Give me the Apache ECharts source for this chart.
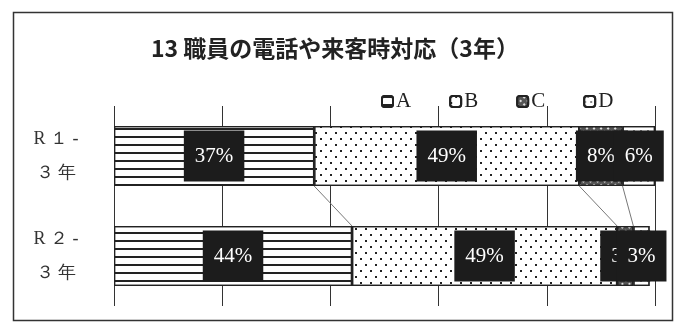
<!DOCTYPE html>
<html>
<head>
<meta charset="utf-8">
<script src="https://cdn.jsdelivr.net/npm/echarts@6/dist/echarts.min.js"></script>
<style>
  html, body { margin: 0; padding: 0; background: #fff; }
  #chart { width: 683px; height: 334px; }
</style>
</head>
<body>
<div id="chart"></div>
<script>
  // 区分・系列データ (%)
  var categories = ['R １ -\n３ 年', 'R ２ -\n３ 年'];
  var seriesNames = ['A', 'B', 'C', 'D'];
  var valA = [37, 44];
  var valB = [49, 49];
  var valC = [8, 3];
  var valD = [6, 3];
  var xTicks = [0, 20, 40, 60, 80, 100];

  var serif = '"Liberation Serif", "DejaVu Serif", serif';

  // 区切り線 (R1 の境界 → R2 の境界)
  function cumulative(i) {
    var a = valA[i], b = a + valB[i], c = b + valC[i];
    return [a, b, c];
  }
  var c1 = cumulative(0), c2 = cumulative(1);
  var linkData = [];
  for (var k = 0; k < c1.length; k++) {
    linkData.push([c1[k], c2[k]]);
  }

  var BAR_W = 60;

  var labelStyle = {
    show: true,
    position: 'inside',
    formatter: '{c}%',
    color: '#fff',
    fontFamily: serif,
    fontSize: 21,
    backgroundColor: '#1c1c1c',
    padding: [15, 11]
  };

  var patterns = {
    A: { color: '#fff', decal: { symbol: 'rect', symbolSize: 1, dashArrayX: [1, 0], dashArrayY: [1.6, 5.5], rotation: 0, color: '#222' } },
    B: { color: '#fff', decal: { symbol: 'rect', symbolSize: 1, dashArrayX: [[1.6, 7.4], [0, 4.5, 1.6, 2.9]], dashArrayY: [1.6, 4], rotation: 0, color: '#222' } },
    C: { color: '#555', decal: { symbol: 'rect', symbolSize: 1, dashArrayX: [[1.5, 2.5]], dashArrayY: [1.5, 2.5], rotation: 0.785, color: '#ddd' } },
    D: { color: '#fff', decal: { symbol: 'rect', symbolSize: 1, dashArrayX: [[1.3, 4], [0, 2.6, 1.3, 1.4]], dashArrayY: [1.3, 3], rotation: 0, color: '#888' } }
  };

  function barSeries(name, data) {
    return {
      name: name,
      type: 'bar',
      stack: 'total',
      barWidth: BAR_W,
      data: data,
      itemStyle: {
        color: patterns[name].color,
        decal: patterns[name].decal,
        borderColor: '#222',
        borderWidth: 1.2
      },
      label: labelStyle,
      z: 3
    };
  }

  var myChart = echarts.init(document.getElementById('chart'));
  myChart.setOption({
    animation: false,
    aria: { enabled: false },
    title: {
      text: '13 職員の電話や来客時対応（3年）',
      left: 146,
      top: 32,
      textStyle: {
        fontFamily: '"Noto Sans CJK JP", sans-serif',
        fontWeight: 'bold',
        fontSize: 23,
        color: '#222'
      }
    },
    legend: {
      data: seriesNames,
      left: 376,
      top: 86,
      itemWidth: 11,
      itemHeight: 11,
      itemGap: 38,
      textStyle: { fontFamily: serif, fontSize: 21, color: '#222', padding: [0, 0, 0, -2] }
    },
    grid: {
      left: 114,
      right: 28,
      top: 106,
      bottom: 28
    },
    xAxis: {
      type: 'value',
      min: xTicks[0],
      max: xTicks[xTicks.length - 1],
      interval: xTicks[1] - xTicks[0],
      axisLabel: { show: false },
      axisLine: { show: false },
      axisTick: { show: false },
      splitLine: { show: true, lineStyle: { color: '#333', width: 1 } }
    },
    yAxis: {
      type: 'category',
      inverse: true,
      data: categories,
      axisLine: { show: false },
      axisTick: { show: false },
      axisLabel: {
        fontFamily: serif,
        fontSize: 18,
        color: '#333',
        lineHeight: 34,
        margin: 58,
        align: 'center'
      }
    },
    series: [
      barSeries('A', valA),
      barSeries('B', valB),
      barSeries('C', valC),
      barSeries('D', valD),
      {
        type: 'custom',
        silent: true,
        z: 2,
        data: linkData,
        encode: { x: [0, 1] },
        renderItem: function (params, api) {
          var p1 = api.coord([api.value(0), 0]);
          var p2 = api.coord([api.value(1), 1]);
          return {
            type: 'line',
            shape: { x1: p1[0], y1: p1[1] + BAR_W / 2, x2: p2[0], y2: p2[1] - BAR_W / 2 },
            style: { stroke: '#777', lineWidth: 1 }
          };
        }
      }
    ],
    graphic: [{
      type: 'rect',
      left: 11,
      top: 10,
      shape: { width: 659, height: 308 },
      style: { fill: 'none', stroke: '#333', lineWidth: 1.5 },
      silent: true
    }]
  });
</script>
</body>
</html>
